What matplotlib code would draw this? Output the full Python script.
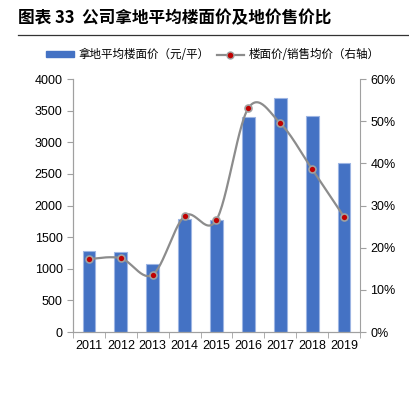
import numpy as np
import matplotlib.pyplot as plt
from matplotlib.lines import Line2D
from matplotlib.patches import Patch

plt.rcParams['font.family'] = ['Liberation Sans', 'Noto Sans CJK SC', 'DejaVu Sans']

years = ['2011', '2012', '2013', '2014', '2015', '2016', '2017', '2018', '2019']
land_price = [1280, 1265, 1075, 1787, 1766, 3394, 3700, 3415, 2677]
ratio = [17.3, 17.5, 13.6, 27.5, 26.6, 53.1, 49.5, 38.6, 27.3]


def smooth(x, y, n=30):
    # excel-like smoothed line (catmull-rom bezier)
    x = np.asarray(x, float)
    y = np.asarray(y, float)
    px = np.concatenate([[x[0]], x, [x[-1]]])
    py = np.concatenate([[y[0]], y, [y[-1]]])
    xs, ys = [], []
    t = np.linspace(0, 1, n)
    for i in range(1, len(px) - 2):
        p0 = np.array([px[i], py[i]])
        p3 = np.array([px[i + 1], py[i + 1]])
        c1 = p0 + (p3 - np.array([px[i - 1], py[i - 1]])) / 6
        c2 = p3 - (np.array([px[i + 2], py[i + 2]]) - p0) / 6
        b = ((1 - t) ** 3)[:, None] * p0 + (3 * (1 - t) ** 2 * t)[:, None] * c1 \
            + (3 * (1 - t) * t ** 2)[:, None] * c2 + (t ** 3)[:, None] * p3
        xs.extend(b[:, 0])
        ys.extend(b[:, 1])
    return xs, ys


fig = plt.figure(figsize=(4.1, 3.97), dpi=100)
ax = fig.add_axes([0.178, 0.1637, 0.7, 0.6373])
ax2 = ax.twinx()

x = np.arange(len(years))
ax.bar(x, land_price, width=0.4, color='#4472C4', edgecolor='#9DB5E3', linewidth=0.8, zorder=2)
ax.set_xlim(-0.5, len(years) - 0.5)
ax.set_ylim(0, 4000)
ax.set_yticks(range(0, 4001, 500))
ax.set_xticks(x)
ax.set_xticklabels(years)
ax.set_xticks(np.arange(-0.5, len(years)), minor=True)
ax.tick_params(axis='x', which='major', length=0, labelsize=9, pad=6)
ax.tick_params(axis='x', which='minor', length=4, color='#a0a0a0', direction='out')
ax.tick_params(axis='y', labelsize=9, length=4, color='#a0a0a0')

sx, sy = smooth(x, ratio)
ax2.plot(sx, sy, color='#8c8c8c', linewidth=1.6, zorder=3)
ax2.plot(x, ratio, 'o', markersize=5, markerfacecolor='#C00000',
         markeredgecolor='#a0a0a0', markeredgewidth=1.2, zorder=4)
ax2.set_ylim(0, 60)
ax2.set_yticks(range(0, 61, 10))
ax2.set_yticklabels([f'{v}%' for v in range(0, 61, 10)])
ax2.tick_params(axis='y', labelsize=9, length=4, color='#a0a0a0')

for a in (ax, ax2):
    a.spines['top'].set_visible(False)
    for s in ('left', 'right', 'bottom'):
        a.spines[s].set_color('#a0a0a0')
ax.spines['right'].set_visible(False)

fig.text(0.045, 0.955, '图表 33  公司拿地平均楼面价及地价售价比', fontsize=12, fontweight='bold',
         va='center', family=['Noto Sans CJK SC'])
fig.add_artist(Line2D([0.043, 1.0], [0.912, 0.912], color='#333333', linewidth=0.9))

handles = [Patch(facecolor='#4472C4', edgecolor='#4472C4'),
           Line2D([], [], color='#8c8c8c', linewidth=1.6, marker='o', markersize=5,
                  markerfacecolor='#C00000', markeredgecolor='#a0a0a0')]
fig.legend(handles, ['拿地平均楼面价（元/平）', '楼面价/销售均价（右轴）'],
           loc='center', bbox_to_anchor=(0.52, 0.862), ncol=2, frameon=False,
           prop={'family': ['Noto Sans CJK SC'], 'size': 8.3},
           handlelength=2.4, handleheight=0.5, columnspacing=0.6, handletextpad=0.4)

fig.savefig('out.png', dpi=100)
